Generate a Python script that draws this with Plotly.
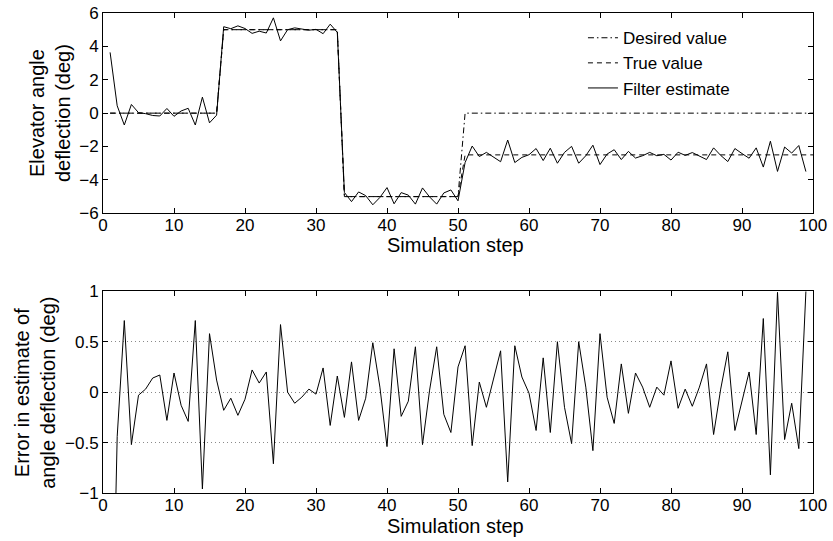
import plotly.graph_objects as go

steps_full = list(range(1, 101))
steps_est = list(range(1, 100))

desired_value = [0.0] * 16 + [5.0] * 17 + [-5.0] * 17 + [0.0] * 50
true_value = [0.0] * 16 + [5.0] * 17 + [-5.0] * 17 + [-2.5] * 50

filter_estimate = [
    3.64, 0.44, -0.71, 0.52, 0.03, -0.03, -0.14, -0.17, 0.28, -0.19,
    0.13, 0.29, -0.71, 0.96, -0.58, -0.12, 5.18, 5.06, 5.23, 5.07,
    4.78, 4.91, 4.80, 5.71, 4.33, 5.00, 5.11, 5.05, 4.97, 5.02,
    4.76, 5.33, 4.84, -4.75, -5.30, -4.72, -4.94, -5.49, -5.05, -4.46,
    -5.43, -4.76, -4.91, -5.45, -4.48, -5.02, -5.45, -4.78, -4.60, -5.25,
    -2.96, -1.97, -2.60, -2.35, -2.63, -2.91, -1.61, -2.96, -2.65, -2.49,
    -2.12, -2.84, -2.10, -3.00, -2.35, -1.99, -3.00, -2.55, -1.92, -3.08,
    -2.45, -2.19, -2.78, -2.29, -2.69, -2.55, -2.35, -2.55, -2.47, -2.81,
    -2.34, -2.53, -2.36, -2.55, -2.78, -2.08, -2.53, -2.90, -2.12, -2.42,
    -2.70, -2.08, -3.23, -1.68, -3.49, -2.03, -2.39, -1.94, -3.50,
]

estimate_error = [
    -3.64, -0.44, 0.71, -0.52, -0.03, 0.03, 0.14, 0.17, -0.28, 0.19,
    -0.13, -0.29, 0.71, -0.96, 0.58, 0.12, -0.18, -0.06, -0.23, -0.07,
    0.22, 0.09, 0.20, -0.71, 0.67, 0.00, -0.11, -0.05, 0.03, -0.02,
    0.24, -0.33, 0.16, -0.25, 0.30, -0.28, -0.06, 0.49, 0.05, -0.54,
    0.43, -0.24, -0.09, 0.45, -0.52, 0.02, 0.45, -0.22, -0.40, 0.25,
    0.46, -0.53, 0.10, -0.15, 0.13, 0.41, -0.89, 0.46, 0.15, -0.01,
    -0.38, 0.34, -0.40, 0.50, -0.15, -0.51, 0.50, 0.05, -0.58, 0.58,
    -0.05, -0.31, 0.28, -0.21, 0.19, 0.05, -0.15, 0.05, -0.03, 0.31,
    -0.16, 0.03, -0.14, 0.05, 0.28, -0.42, 0.03, 0.40, -0.38, -0.08,
    0.20, -0.42, 0.73, -0.82, 0.99, -0.47, -0.11, -0.56, 1.00,
]

x_ticks = list(range(0, 101, 10))
top_y_ticks = [-6, -4, -2, 0, 2, 4, 6]
bottom_y_ticks = [-1, -0.5, 0, 0.5, 1]

FONT = "Liberation Sans, Arial, Helvetica, sans-serif"
BLACK = "#000000"

fig = go.Figure()

fig.add_trace(go.Scatter(
    x=steps_full, y=desired_value, mode="lines", name="Desired value",
    line=dict(color=BLACK, width=1, dash="6px,3px,1.5px,3px"),
    xaxis="x", yaxis="y", legendgroup="a"))
fig.add_trace(go.Scatter(
    x=steps_full, y=true_value, mode="lines", name="True value",
    line=dict(color=BLACK, width=1, dash="5px,4px"),
    xaxis="x", yaxis="y", legendgroup="b"))
fig.add_trace(go.Scatter(
    x=steps_est, y=filter_estimate, mode="lines", name="Filter estimate",
    line=dict(color=BLACK, width=1),
    xaxis="x", yaxis="y", legendgroup="c"))
fig.add_trace(go.Scatter(
    x=steps_est, y=estimate_error, mode="lines", showlegend=False,
    line=dict(color=BLACK, width=1),
    xaxis="x2", yaxis="y2"))

axis_common = dict(
    showline=True, linecolor=BLACK, linewidth=1, mirror="ticks",
    ticks="inside", ticklen=5, tickwidth=1, tickcolor=BLACK,
    zeroline=False, automargin=False,
    tickfont=dict(family=FONT, size=17, color=BLACK),
)

fig.update_layout(
    width=833, height=541,
    margin=dict(l=103, r=20, t=13, b=48),
    paper_bgcolor="white", plot_bgcolor="white",
    font=dict(family=FONT, color=BLACK),
    xaxis=dict(domain=[0, 1], anchor="y", range=[0, 100], tickvals=x_ticks,
               showgrid=False, ticklabelstandoff=-4, **axis_common),
    yaxis=dict(domain=[0.5827, 1], anchor="x", range=[-6, 6], tickvals=top_y_ticks,
               showgrid=False, **axis_common),
    xaxis2=dict(domain=[0, 1], anchor="y2", range=[0, 100], tickvals=x_ticks,
                showgrid=False, ticklabelstandoff=-3, **axis_common),
    yaxis2=dict(domain=[0, 0.4202], anchor="x2", range=[-1, 1], tickvals=bottom_y_ticks,
                showgrid=True, gridcolor="#8a8a8a", griddash="1px,3px", gridwidth=1,
                **axis_common),
    legend=dict(x=0.676, y=0.985, xanchor="left", yanchor="top",
                bgcolor="rgba(255,255,255,0)", borderwidth=0,
                font=dict(family=FONT, size=17, color=BLACK),
                tracegroupgap=0),
    showlegend=True,
)

title_font = dict(family=FONT, size=20, color=BLACK)
fig.add_annotation(text="Simulation step", xref="paper", yref="paper",
                   x=0.4958, y=0.5167, xanchor="center", yanchor="middle",
                   showarrow=False, font=title_font)
fig.add_annotation(text="Simulation step", xref="paper", yref="paper",
                   x=0.4958, y=-0.06875, xanchor="center", yanchor="middle",
                   showarrow=False, font=title_font)
fig.add_annotation(text="Elevator angle<br>deflection (deg)", xref="paper", yref="paper",
                   x=-0.0746, y=0.7917, xanchor="center", yanchor="middle",
                   textangle=-90, showarrow=False, font=title_font)
fig.add_annotation(text="Error in estimate of<br>angle deflection (deg)", xref="paper", yref="paper",
                   x=-0.0960, y=0.2083, xanchor="center", yanchor="middle",
                   textangle=-90, showarrow=False, font=title_font)

fig.write_html(
    "out.html",
    config={"displayModeBar": False},
    post_script="document.body.style.margin='0';document.body.style.overflow='hidden';",
)
